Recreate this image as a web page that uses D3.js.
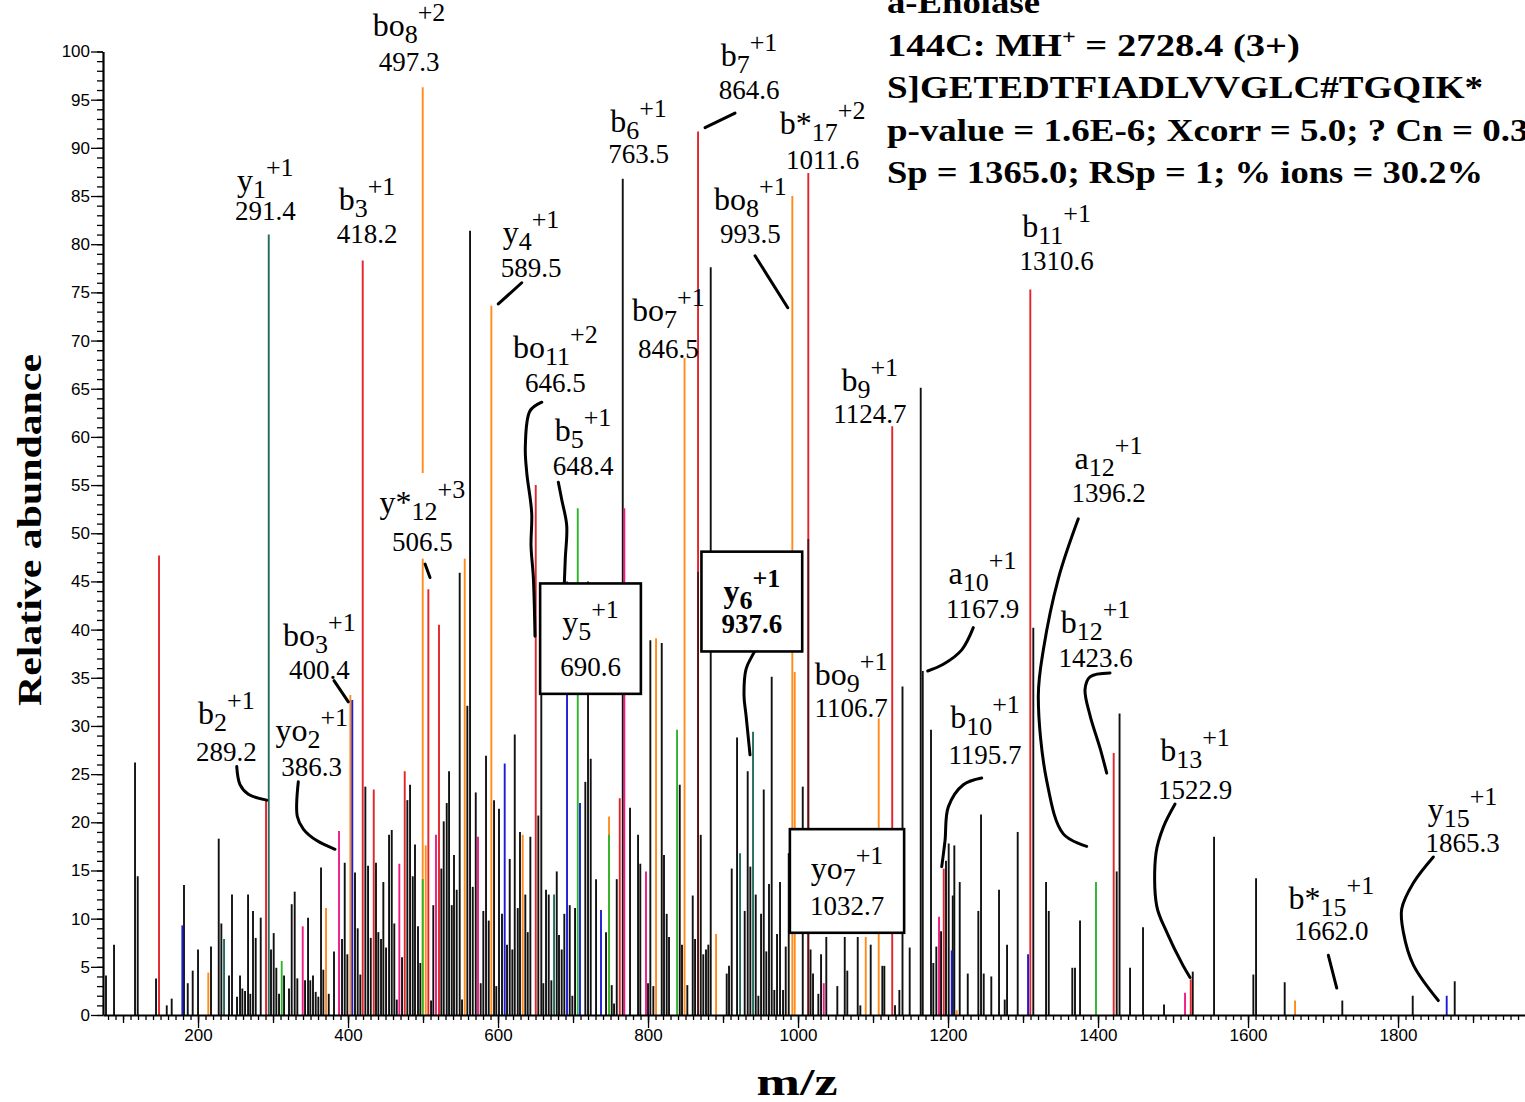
<!DOCTYPE html>
<html>
<head>
<meta charset="utf-8">
<script src="https://cdn.jsdelivr.net/npm/d3@7"></script>
<style>
  body { margin: 0; background: #fff; }
  svg { display: block; }
</style>
</head>
<body>
<div id="chart"></div>
<script>
// Peaks as [m/z, relative abundance], grouped by the colour they are drawn in
const blackPeaks = [
  [77.3,4.1],[88.0,7.3],[116.0,26.2],[119.6,14.4],[144.0,3.8],[158.3,1.0],[164.9,1.7],[181.3,13.5],
  [186.3,3.3],[192.9,4.6],[200.0,6.8],[217.3,7.1],[227.6,18.3],[231.1,9.5],[241.3,4.1],[245.3,12.5],
  [252.0,1.9],[256.0,4.1],[259.1,2.75],[262.7,2.5],[266.7,12.5],[269.7,2.2],[273.3,10.8],[276.9,8.0],
  [283.6,10.1],[297.3,6.8],[300.9,8.5],[304.4,4.9],[308.0,2.2],[314.7,4.1],[321.3,2.75],[324.9,11.5],
  [328.9,12.8],[332.4,3.8],[342.7,3.6],[346.7,10.1],[349.7,3.6],[353.3,4.1],[356.9,2.4],[360.4,1.9],
  [364.0,15.3],[367.1,4.7],[374.3,2.2],[381.3,6.6],[392.0,7.9],[395.6,15.8],[399.1,6.3],[409.3,14.8],
  [412.9,9.0],[416.4,4.2],[423.1,23.7],[426.7,15.5],[430.3,8.0],[437.3,15.8],[440.4,8.6],[444.0,7.9],
  [447.1,13.8],[450.7,7.0],[454.7,18.7],[458.3,19.2],[461.7,9.5],[465.0,1.6],[472.0,6.0],[479.1,22.3],
  [482.7,23.9],[486.3,14.4],[489.3,17.7],[493.3,9.2],[496.4,5.4],[510.7,1.5],[513.7,11.4],[524.4,15.2],
  [527.6,20.1],[531.6,22.0],[534.7,25.3],[538.3,11.4],[541.3,16.6],[544.9,13.0],[548.9,45.9],[552.0,1.6],
  [559.1,32.1],[562.7,81.4],[566.3,13.3],[570.3,23.1],[576.9,3.3],[580.4,10.8],[584.0,26.9],[587.6,9.8],
  [594.7,22.3],[597.7,3.0],[601.3,21.4],[605.3,10.5],[612.0,7.3],[615.6,16.2],[619.1,6.8],[622.3,29.1],
  [626.3,11.1],[629.3,19.0],[636.4,12.5],[639.6,8.6],[643.1,18.5],[653.7,20.7],[657.7,40.5],[660.4,3.3],
  [664.0,13.0],[667.6,12.5],[671.1,3.6],[678.3,14.9],[681.3,8.3],[684.9,6.8],[688.4,10.5],[695.6,11.4],
  [699.1,2.0],[702.7,11.1],[716.4,24.2],[720.0,45.0],[723.6,26.6],[730.7,14.1],[744.0,8.6],[751.6,3.1],
  [754.7,1.2],[758.3,14.1],[766.3,86.8],[776.0,21.5],[786.7,18.7],[789.7,15.7],[800.0,3.3],[803.1,38.9],
  [807.1,3.0],[818.3,38.6],[821.3,16.6],[824.9,10.5],[828.0,8.1],[842.3,23.9],[845.3,7.3],[852.4,3.1],
  [859.6,12.4],[862.7,7.9],[870.3,18.7],[873.7,6.3],[877.3,6.8],[880.4,7.3],[883.6,77.6],[904.9,4.3],
  [908.0,5.1],[911.6,15.2],[918.7,28.8],[928.9,10.8],[932.9,25.3],[936.4,15.4],[943.6,12.5],[947.1,2.0],
  [950.7,10.5],[954.3,23.4],[957.7,6.6],[961.3,13.6],[964.9,35.1],[968.4,2.6],[972.0,8.4],[976.0,13.8],
  [980.0,2.6],[983.6,7.1],[987.6,16.8],[1006.3,23.7],[1016.7,6.8],[1020.0,4.3],[1027.1,2.2],[1030.7,6.3],
  [1037.7,8.1],[1052.4,3.0],[1062.3,8.1],[1065.7,4.6],[1079.6,8.1],[1083.1,1.0],[1096.9,7.3],[1112.4,5.1],
  [1115.1,5.1],[1129.3,1.0],[1135.1,2.6],[1139.3,34.1],[1148.9,7.0],[1163.6,65.1],[1166.3,35.7],[1177.3,29.6],
  [1180.4,5.4],[1184.4,7.1],[1190.7,8.7],[1197.3,16.0],[1200.9,17.8],[1206.3,12.4],[1208.4,17.6],[1215.6,13.8],
  [1226.3,4.3],[1240.4,10.8],[1244.0,20.8],[1247.6,4.3],[1257.7,4.0],[1268.0,13.0],[1275.6,1.6],[1278.7,7.3],
  [1292.9,19.0],[1313.7,40.2],[1330.7,13.8],[1334.3,10.8],[1365.7,4.9],[1369.3,4.9],[1376.0,9.8],[1424.9,14.9],
  [1428.7,31.3],[1442.7,4.9],[1460.0,9.1],[1488.0,1.1],[1526.3,4.5],[1554.7,18.5],[1607.1,4.2],[1610.7,14.2],
  [1648.9,3.4],[1725.7,1.5],[1819.6,2.0],[1875.6,3.5]
];
const redPeaks = [
  [148.0,47.7],[290.7,22.4],[419.6,78.3],[434.3,23.4],[475.6,25.3],[507.1,44.2],[521.3,40.5],[650.3,55.0],
  [762.3,22.5],[866.7,91.7],[1013.7,87.4],[1125.6,61.1],[1194.3,15.2],[1309.7,75.3],[1420.9,27.2],[1523.6,3.7]
];
const orangePeaks = [
  [213.7,4.4],[370.7,11.1],[403.1,33.2],[499.6,96.3],[503.6,17.6],[555.6,55.5],[591.1,73.6],[632.9,18.7],
  [748.0,20.6],[810.7,39.1],[848.7,68.2],[890.7,8.4],[992.4,85.0],[995.6,35.6],[1090.3,8.1],[1107.6,30.8],
  [1211.6,0.5],[1662.7,1.5]
];
const bluePeaks = [
  [179.1,9.3],[405.7,32.7],[608.9,26.1],[692.0,45.0],[709.3,22.0],[737.3,10.9],[1204.9,6.7],[1306.7,6.3],[1864.9,2.0]
];
const greenPeaks = [
  [311.6,5.6],[499.6,14.1],[706.3,52.6],[748.0,18.7],[838.7,29.6],[1397.3,13.8]
];
const pinkPeaks = [
  [339.6,9.2],[388.0,19.1],[468.4,15.7],[517.3,18.7],[573.3,18.5],[768.4,52.6],[797.3,14.9],[1034.3,3.3],
  [1188.0,10.2],[1516.0,2.3]
];
const tealPeaks = [
  [234.7,7.9],[294.3,81.0],[674.7,12.5],[922.7,16.8],[940.0,29.4]
];
// black peaks that sit underneath coloured ones
const sharedPeaks = [[866.7,46.0],[1013.7,49.4]];

// Tick labels
const yTickValues = d3.range(0, 101, 5);
const xTickValues = d3.range(200, 1900, 200);

// Annotated fragment ions
const ionLabels = [
  {ion:"bo", sub:"8", sup:"+2", value:"497.3", mz:481.3, nameAt:101.6, valueAt:98.0},
  {ion:"b", sub:"7", sup:"+1", value:"864.6", mz:934.7, nameAt:98.5, valueAt:95.1},
  {ion:"b", sub:"6", sup:"+1", value:"763.5", mz:787.3, nameAt:91.6, valueAt:88.4},
  {ion:"b*", sub:"17", sup:"+2", value:"1011.6", mz:1032.9, nameAt:91.4, valueAt:87.8},
  {ion:"y", sub:"1", sup:"+1", value:"291.4", mz:289.7, nameAt:85.5, valueAt:82.5},
  {ion:"b", sub:"3", sup:"+1", value:"418.2", mz:425.3, nameAt:83.5, valueAt:80.1},
  {ion:"y", sub:"4", sup:"+1", value:"589.5", mz:644.0, nameAt:80.1, valueAt:76.6},
  {ion:"bo", sub:"8", sup:"+1", value:"993.5", mz:936.4, nameAt:83.5, valueAt:80.1},
  {ion:"b", sub:"11", sup:"+1", value:"1310.6", mz:1344.7, nameAt:80.7, valueAt:77.3},
  {ion:"bo", sub:"7", sup:"+1", value:"846.5", mz:827.2, nameAt:72.0, valueAt:68.2},
  {ion:"bo", sub:"11", sup:"+2", value:"646.5", mz:676.4, nameAt:68.2, valueAt:64.7},
  {ion:"b", sub:"9", sup:"+1", value:"1124.7", mz:1095.7, nameAt:64.8, valueAt:61.4},
  {ion:"b", sub:"5", sup:"+1", value:"648.4", mz:713.3, nameAt:59.6, valueAt:56.0},
  {ion:"a", sub:"12", sup:"+1", value:"1396.2", mz:1414.0, nameAt:56.7, valueAt:53.2},
  {ion:"y*", sub:"12", sup:"+3", value:"506.5", mz:499.1, nameAt:52.1, valueAt:48.2, bg:true},
  {ion:"a", sub:"10", sup:"+1", value:"1167.9", mz:1246.0, nameAt:44.7, valueAt:41.2},
  {ion:"y", sub:"5", sup:"+1", value:"690.6", mz:723.3, nameAt:39.6, valueAt:35.2, box:true},
  {ion:"y", sub:"6", sup:"+1", value:"937.6", mz:938.4, nameAt:42.9, valueAt:39.6, box:true, bold:true},
  {ion:"bo", sub:"3", sup:"+1", value:"400.4", mz:361.9, nameAt:38.3, valueAt:34.9},
  {ion:"b", sub:"12", sup:"+1", value:"1423.6", mz:1396.7, nameAt:39.6, valueAt:36.1},
  {ion:"bo", sub:"9", sup:"+1", value:"1106.7", mz:1070.9, nameAt:34.2, valueAt:30.9},
  {ion:"b", sub:"2", sup:"+1", value:"289.2", mz:237.9, nameAt:30.2, valueAt:26.4},
  {ion:"yo", sub:"2", sup:"+1", value:"386.3", mz:351.6, nameAt:28.4, valueAt:24.8},
  {ion:"b", sub:"10", sup:"+1", value:"1195.7", mz:1249.3, nameAt:29.8, valueAt:26.1},
  {ion:"b", sub:"13", sup:"+1", value:"1522.9", mz:1529.3, nameAt:26.4, valueAt:22.4},
  {ion:"yo", sub:"7", sup:"+1", value:"1032.7", mz:1065.3, nameAt:14.1, valueAt:10.4, box:true},
  {ion:"y", sub:"15", sup:"+1", value:"1865.3", mz:1886.0, nameAt:20.2, valueAt:16.9},
  {ion:"b*", sub:"15", sup:"+1", value:"1662.0", mz:1711.1, nameAt:11.0, valueAt:7.8}
];

// Hand-drawn leader lines, in [m/z, abundance]
const leaders = [
  [[876,92.1],[916,93.6]],
  [[600.4,73.8],[631.6,76.0]],
  [[942.7,78.8],[986.3,73.4]],
  [[502.7,46.8],[509.3,45.4]],
  [[381.3,34.7],[400.4,32.5]],
  [[251.6,25.8],[256,23.9],[267.1,22.9],[291.6,22.3]],
  [[333.7,24.2],[332.4,20.6],[340.4,19.3],[358.3,18.1],[382.7,17.2]],
  [[658.3,63.6],[642.7,62.7],[636.4,59.0],[638.3,56.3],[644.9,52.1],[644,48.7],[647.1,45.4],[649.3,39.3]],
  [[680.4,55.3],[684.9,53.5],[691.6,50.8],[689.7,47.4],[688,44.0]],
  [[953.7,39.2],[938.3,37.2],[930.7,35.9],[928,33.1],[930.7,31.1],[936,27.0]],
  [[1233.7,40.2],[1218.3,37.9],[1193.7,36.4],[1172.9,35.7]],
  [[1244.9,24.6],[1220.4,23.9],[1200.4,21.6],[1196,18.1],[1191.6,15.4]],
  [[1373.7,51.5],[1347.1,45.3],[1327.1,37.9],[1320.4,33.1],[1331.6,24.3],[1353.7,18.8],[1384.9,17.5]],
  [[1416,35.5],[1389.3,35.1],[1382.7,33.8],[1389.3,31.1],[1402.7,27.7],[1411.6,25.1]],
  [[1502.7,21.9],[1487.1,19.5],[1477.3,16.8],[1478.3,11.3],[1491.6,8.6],[1512.9,5.2],[1522.7,3.9]],
  [[1707.1,6.2],[1718.3,2.8]],
  [[1847.1,16.4],[1820.4,13.7],[1804.9,11.0],[1807.1,8.6],[1820.4,5.2],[1853.7,1.5]]
];

const headerLines = [
  "a-Enolase",
  "144C: MH|+| = 2728.4 (3+)",
  "S]GETEDTFIADLVVGLC#TGQIK*",
  "p-value = 1.6E-6; Xcorr = 5.0; ? Cn = 0.35",
  "Sp = 1365.0; RSp = 1; % ions = 30.2%"
];

const serif = "'Liberation Serif', 'Times New Roman', serif";
const sans = "'Liberation Sans', Arial, sans-serif";

const width = 1525, height = 1102;

const svg = d3.select("#chart")
    .append("svg")
    .attr("width", width)
    .attr("height", height);

// Scales
const x = d3.scaleLinear().domain([73.3, 1969.3]).range([103, 1525]);
const y = d3.scaleLinear().domain([0, 100]).range([1015, 51.5]);

// Peaks
function drawPeaks(peaks, color, opacity) {
    svg.append("g")
        .selectAll("line")
        .data(peaks)
        .join("line")
        .attr("x1", d => x(d[0]))
        .attr("x2", d => x(d[0]))
        .attr("y1", y(0))
        .attr("y2", d => y(d[1]))
        .attr("stroke", color)
        .attr("stroke-width", 1.9)
        .attr("opacity", opacity || 1);
}
drawPeaks(blackPeaks, "#111");
drawPeaks(orangePeaks, "#ff8c1a");
drawPeaks(redPeaks, "#e3242b");
drawPeaks(pinkPeaks, "#f01a82");
drawPeaks(bluePeaks, "#1c1cd6");
drawPeaks(tealPeaks, "#246b5f");
drawPeaks(greenPeaks, "#2db52d");
drawPeaks(sharedPeaks, "#1a0a0a", 0.7);

// Axes
function tickGroup(axis, transform) {
    const g = svg.append("g").attr("transform", transform).call(axis);
    g.selectAll("line").attr("stroke", "#000").attr("stroke-width", 1.3);
    return g;
}

const xMinor = tickGroup(d3.axisBottom(x).tickValues(d3.range(80, 1970, 10)).tickSize(5).tickSizeOuter(0).tickFormat(""), `translate(0,${y(0)})`);
xMinor.select(".domain").remove();
const xMid = tickGroup(d3.axisBottom(x).tickValues(d3.range(100, 1970, 100)).tickSize(8).tickSizeOuter(0).tickFormat(""), `translate(0,${y(0)})`);
xMid.select(".domain").remove();
const xMajor = tickGroup(d3.axisBottom(x).tickValues(xTickValues).tickSize(13).tickSizeOuter(0).tickPadding(1).tickFormat(d3.format("d")), `translate(0,${y(0)})`);
xMajor.select(".domain").attr("stroke-width", 2.2);
xMajor.selectAll("text")
    .style("font-family", sans)
    .style("font-size", "17px")
    .attr("fill", "#000");

const yMinor = tickGroup(d3.axisLeft(y).tickValues(d3.range(0, 101, 1)).tickSize(6).tickSizeOuter(0).tickFormat(""), `translate(${x(73.3)},0)`);
yMinor.select(".domain").remove();
const yMajor = tickGroup(d3.axisLeft(y).tickValues(yTickValues).tickSize(12).tickSizeOuter(0).tickPadding(1), `translate(${x(73.3)},0)`);
yMajor.select(".domain").attr("stroke-width", 2.2);
yMajor.selectAll("text")
    .style("font-family", sans)
    .style("font-size", "17px")
    .attr("fill", "#000");

// Leader lines
const leaderLine = d3.line()
    .x(d => x(d[0]))
    .y(d => y(d[1]))
    .curve(d3.curveCatmullRom);

svg.append("g")
    .selectAll("path")
    .data(leaders)
    .join("path")
    .attr("d", leaderLine)
    .attr("fill", "none")
    .attr("stroke", "#000")
    .attr("stroke-width", 3)
    .attr("stroke-linecap", "round");

// Ion labels
ionLabels.forEach(l => {
    const g = svg.append("g")
        .style("font-family", serif)
        .style("font-weight", l.bold ? "bold" : "normal");

    const name = g.append("text")
        .attr("x", x(l.mz))
        .attr("y", y(l.nameAt))
        .attr("text-anchor", "middle");
    name.append("tspan").style("font-size", "32px").text(l.ion);
    name.append("tspan").attr("dy", 7).style("font-size", "26px").text(l.sub);
    name.append("tspan").attr("dy", -22).style("font-size", "26px").text(l.sup);

    g.append("text")
        .attr("x", x(l.mz))
        .attr("y", y(l.valueAt))
        .attr("text-anchor", "middle")
        .style("font-size", "27px")
        .text(l.value);

    if (l.box || l.bg) {
        const bb = g.node().getBBox();
        const padX = l.box ? 20 : 3, padY = l.box ? 12 : 2;
        g.insert("rect", ":first-child")
            .attr("x", bb.x - padX)
            .attr("y", bb.y - padY)
            .attr("width", bb.width + padX * 2)
            .attr("height", bb.height + padY * 2)
            .attr("fill", "#fff")
            .attr("stroke", l.box ? "#000" : "none")
            .attr("stroke-width", 2.6);
    }
});

// Header block
const headerWidths = [153, 413, 596, 660, 596];
headerLines.forEach((line, i) => {
    const t = svg.append("text")
        .attr("x", 887)
        .attr("y", 13 + i * 42.5)
        .attr("textLength", headerWidths[i])
        .attr("lengthAdjust", "spacingAndGlyphs")
        .style("font-family", serif)
        .style("font-weight", "bold")
        .style("font-size", "32px");
    const parts = line.split("|");
    if (parts.length === 3) {
        t.append("tspan").text(parts[0]);
        t.append("tspan").attr("dy", -12).style("font-size", "20px").text(parts[1]);
        t.append("tspan").attr("dy", 12).text(parts[2]);
    } else {
        t.text(line);
    }
});

// Axis titles
svg.append("text")
    .attr("transform", "translate(41,530) rotate(-90)")
    .attr("text-anchor", "middle")
    .attr("textLength", 352)
    .attr("lengthAdjust", "spacingAndGlyphs")
    .style("font-family", serif)
    .style("font-weight", "bold")
    .style("font-size", "34px")
    .text("Relative abundance");

svg.append("text")
    .attr("x", 797)
    .attr("y", 1095)
    .attr("text-anchor", "middle")
    .attr("textLength", 81)
    .attr("lengthAdjust", "spacingAndGlyphs")
    .style("font-family", serif)
    .style("font-weight", "bold")
    .style("font-size", "38px")
    .text("m/z");
</script>
</body>
</html>
